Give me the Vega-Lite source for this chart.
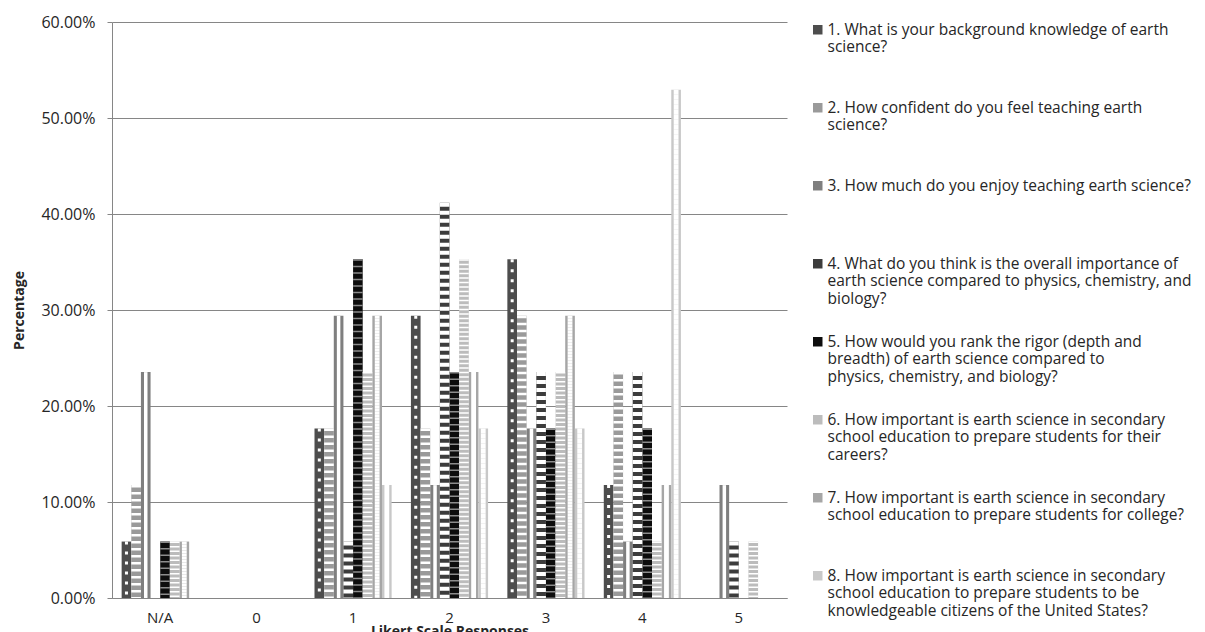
{
  "$schema": "https://vega.github.io/schema/vega-lite/v6.json",
  "width": 675,
  "height": 576,
  "autosize": {"type": "none"},
  "padding": {"left": 112, "top": 22, "right": 418, "bottom": 34},
  "background": "white",
  "config": {"view": {"stroke": null}, "font": "Open Sans"},
  "data": {"values": [
    {"response": "N/A", "question": "q1", "percentage": 0.0588},
    {"response": "N/A", "question": "q2", "percentage": 0.1176},
    {"response": "N/A", "question": "q3", "percentage": 0.2353},
    {"response": "N/A", "question": "q4", "percentage": 0},
    {"response": "N/A", "question": "q5", "percentage": 0.0588},
    {"response": "N/A", "question": "q6", "percentage": 0.0588},
    {"response": "N/A", "question": "q7", "percentage": 0.0588},
    {"response": "N/A", "question": "q8", "percentage": 0},
    {"response": "0", "question": "q1", "percentage": 0},
    {"response": "0", "question": "q2", "percentage": 0},
    {"response": "0", "question": "q3", "percentage": 0},
    {"response": "0", "question": "q4", "percentage": 0},
    {"response": "0", "question": "q5", "percentage": 0},
    {"response": "0", "question": "q6", "percentage": 0},
    {"response": "0", "question": "q7", "percentage": 0},
    {"response": "0", "question": "q8", "percentage": 0},
    {"response": "1", "question": "q1", "percentage": 0.1765},
    {"response": "1", "question": "q2", "percentage": 0.1765},
    {"response": "1", "question": "q3", "percentage": 0.2941},
    {"response": "1", "question": "q4", "percentage": 0.0588},
    {"response": "1", "question": "q5", "percentage": 0.3529},
    {"response": "1", "question": "q6", "percentage": 0.2353},
    {"response": "1", "question": "q7", "percentage": 0.2941},
    {"response": "1", "question": "q8", "percentage": 0.1176},
    {"response": "2", "question": "q1", "percentage": 0.2941},
    {"response": "2", "question": "q2", "percentage": 0.1765},
    {"response": "2", "question": "q3", "percentage": 0.1176},
    {"response": "2", "question": "q4", "percentage": 0.4118},
    {"response": "2", "question": "q5", "percentage": 0.2353},
    {"response": "2", "question": "q6", "percentage": 0.3529},
    {"response": "2", "question": "q7", "percentage": 0.2353},
    {"response": "2", "question": "q8", "percentage": 0.1765},
    {"response": "3", "question": "q1", "percentage": 0.3529},
    {"response": "3", "question": "q2", "percentage": 0.2941},
    {"response": "3", "question": "q3", "percentage": 0.1765},
    {"response": "3", "question": "q4", "percentage": 0.2353},
    {"response": "3", "question": "q5", "percentage": 0.1765},
    {"response": "3", "question": "q6", "percentage": 0.2353},
    {"response": "3", "question": "q7", "percentage": 0.2941},
    {"response": "3", "question": "q8", "percentage": 0.1765},
    {"response": "4", "question": "q1", "percentage": 0.1176},
    {"response": "4", "question": "q2", "percentage": 0.2353},
    {"response": "4", "question": "q3", "percentage": 0.0588},
    {"response": "4", "question": "q4", "percentage": 0.2353},
    {"response": "4", "question": "q5", "percentage": 0.1765},
    {"response": "4", "question": "q6", "percentage": 0.0588},
    {"response": "4", "question": "q7", "percentage": 0.1176},
    {"response": "4", "question": "q8", "percentage": 0.5294},
    {"response": "5", "question": "q1", "percentage": 0},
    {"response": "5", "question": "q2", "percentage": 0},
    {"response": "5", "question": "q3", "percentage": 0.1176},
    {"response": "5", "question": "q4", "percentage": 0.0588},
    {"response": "5", "question": "q5", "percentage": 0},
    {"response": "5", "question": "q6", "percentage": 0.0588},
    {"response": "5", "question": "q7", "percentage": 0},
    {"response": "5", "question": "q8", "percentage": 0}
  ]},
  "encoding": {
    "x": {
      "field": "response", "type": "nominal",
      "scale": {"domain": ["N/A", "0", "1", "2", "3", "4", "5"], "paddingInner": 0.2, "paddingOuter": 0.1},
      "axis": {
        "title": "Likert Scale Responses", "labelAngle": 0, "ticks": false,
        "domainColor": "#868686", "labelPadding": 12, "labelFontSize": 15,
        "labelColor": "#262626", "titleFontSize": 14, "titleFontWeight": "bold",
        "titleColor": "#262626", "titlePadding": -1
      }
    },
    "xOffset": {
      "field": "question", "type": "nominal",
      "scale": {"domain": ["q1", "q2", "q3", "q4", "q5", "q6", "q7", "q8"], "paddingInner": 0, "paddingOuter": 0}
    },
    "y": {
      "field": "percentage", "type": "quantitative",
      "scale": {"domain": [0, 0.6], "nice": false},
      "axis": {
        "title": "Percentage", "format": ".2%",
        "values": [0, 0.1, 0.2, 0.3, 0.4, 0.5, 0.6],
        "gridColor": "#868686", "domainColor": "#868686", "tickColor": "#868686",
        "tickSize": 5, "labelPadding": 12, "labelFontSize": 16, "labelColor": "#262626",
        "titleFontSize": 14, "titleFontWeight": "bold", "titleColor": "#262626",
        "titlePadding": 14
      }
    }
  },
  "layer": [
    {
      "mark": {"type": "bar"},
      "encoding": {
        "color": {
          "field": "question", "type": "nominal",
          "scale": {
            "domain": ["q1", "q2", "q3", "q4", "q5", "q6", "q7", "q8"],
            "range": ["#4d4d4d", "#9a9a9a", "#7f7f7f", "#3c3c3c", "#0d0d0d", "#bcbcbc", "#a6a6a6", "#c8c8c8"]
          },
          "legend": {
            "title": null, "orient": "right", "offset": 23, "padding": 0,
            "symbolType": "square", "symbolSize": 90, "symbolStrokeWidth": 0,
            "labelFont": "Open Sans", "labelFontSize": 15.5, "labelColor": "#262626", "labelLimit": 400,
            "labelBaseline": "middle", "rowPadding": 26, "labelOffset": 2,
            "labelExpr": "({'q1': ['1. What is your background knowledge of earth', 'science?', ' '], 'q2': ['2. How confident do you feel teaching earth', 'science?', ' '], 'q3': ['3. How much do you enjoy teaching earth science?', ' ', ' '], 'q4': ['4. What do you think is the overall importance of', 'earth science compared to physics, chemistry, and', 'biology?'], 'q5': ['5. How would you rank the rigor (depth and', 'breadth) of earth science compared to', 'physics, chemistry, and biology?'], 'q6': ['6. How important is earth science in secondary', 'school education to prepare students for their', 'careers?'], 'q7': ['7. How important is earth science in secondary', 'school education to prepare students for college?', ' '], 'q8': ['8. How important is earth science in secondary', 'school education to prepare students to be', 'knowledgeable citizens of the United States?']})[datum.value]"
          }
        }
      }
    },
    {
      "transform": [{"filter": "datum.question == 'q1'"}],
      "mark": {"type": "rule", "color": "white", "strokeWidth": 3, "strokeDash": [3, 7], "xOffset": -1.5},
      "encoding": {"y2": {"datum": 0}}
    },
    {
      "transform": [{"filter": "datum.question == 'q2'"}],
      "mark": {"type": "rule", "color": "white", "strokeWidth": 9.6, "strokeDash": [2.5, 4.5]},
      "encoding": {"y2": {"datum": 0}}
    },
    {
      "transform": [{"filter": "datum.question == 'q3'"}],
      "mark": {"type": "rule", "color": "white", "strokeWidth": 3.5, "xOffset": 2},
      "encoding": {"y2": {"datum": 0}}
    },
    {
      "transform": [{"filter": "datum.question == 'q4'"}],
      "mark": {"type": "rule", "color": "white", "strokeWidth": 9.6, "strokeDash": [4, 4]},
      "encoding": {"y2": {"datum": 0}}
    },
    {
      "transform": [{"filter": "datum.question == 'q5'"}],
      "mark": {"type": "rule", "color": "#8c8c8c", "strokeWidth": 9.6, "strokeDash": [1.5, 5]},
      "encoding": {"y2": {"datum": 0}}
    },
    {
      "transform": [{"filter": "datum.question == 'q6'"}],
      "mark": {"type": "rule", "color": "white", "strokeWidth": 9.6, "strokeDash": [1.5, 3]},
      "encoding": {"y2": {"datum": 0}}
    },
    {
      "transform": [{"filter": "datum.question == 'q7'"}],
      "mark": {"type": "rule", "color": "white", "strokeWidth": 4.8, "strokeDash": [3, 3], "strokeDashOffset": 3, "xOffset": -2.4},
      "encoding": {"y2": {"datum": 0}}
    },
    {
      "transform": [{"filter": "datum.question == 'q7'"}],
      "mark": {"type": "rule", "color": "white", "strokeWidth": 4.8, "strokeDash": [3, 3], "xOffset": 2.4},
      "encoding": {"y2": {"datum": 0}}
    },
    {
      "transform": [{"filter": "datum.question == 'q8'"}],
      "mark": {"type": "rule", "color": "white", "strokeWidth": 4.8, "strokeDash": [5, 5], "strokeDashOffset": 5, "xOffset": -2.4},
      "encoding": {"y2": {"datum": 0}}
    },
    {
      "transform": [{"filter": "datum.question == 'q8'"}],
      "mark": {"type": "rule", "color": "white", "strokeWidth": 4.8, "strokeDash": [5, 5], "xOffset": 2.4},
      "encoding": {"y2": {"datum": 0}}
    }
  ]
}
